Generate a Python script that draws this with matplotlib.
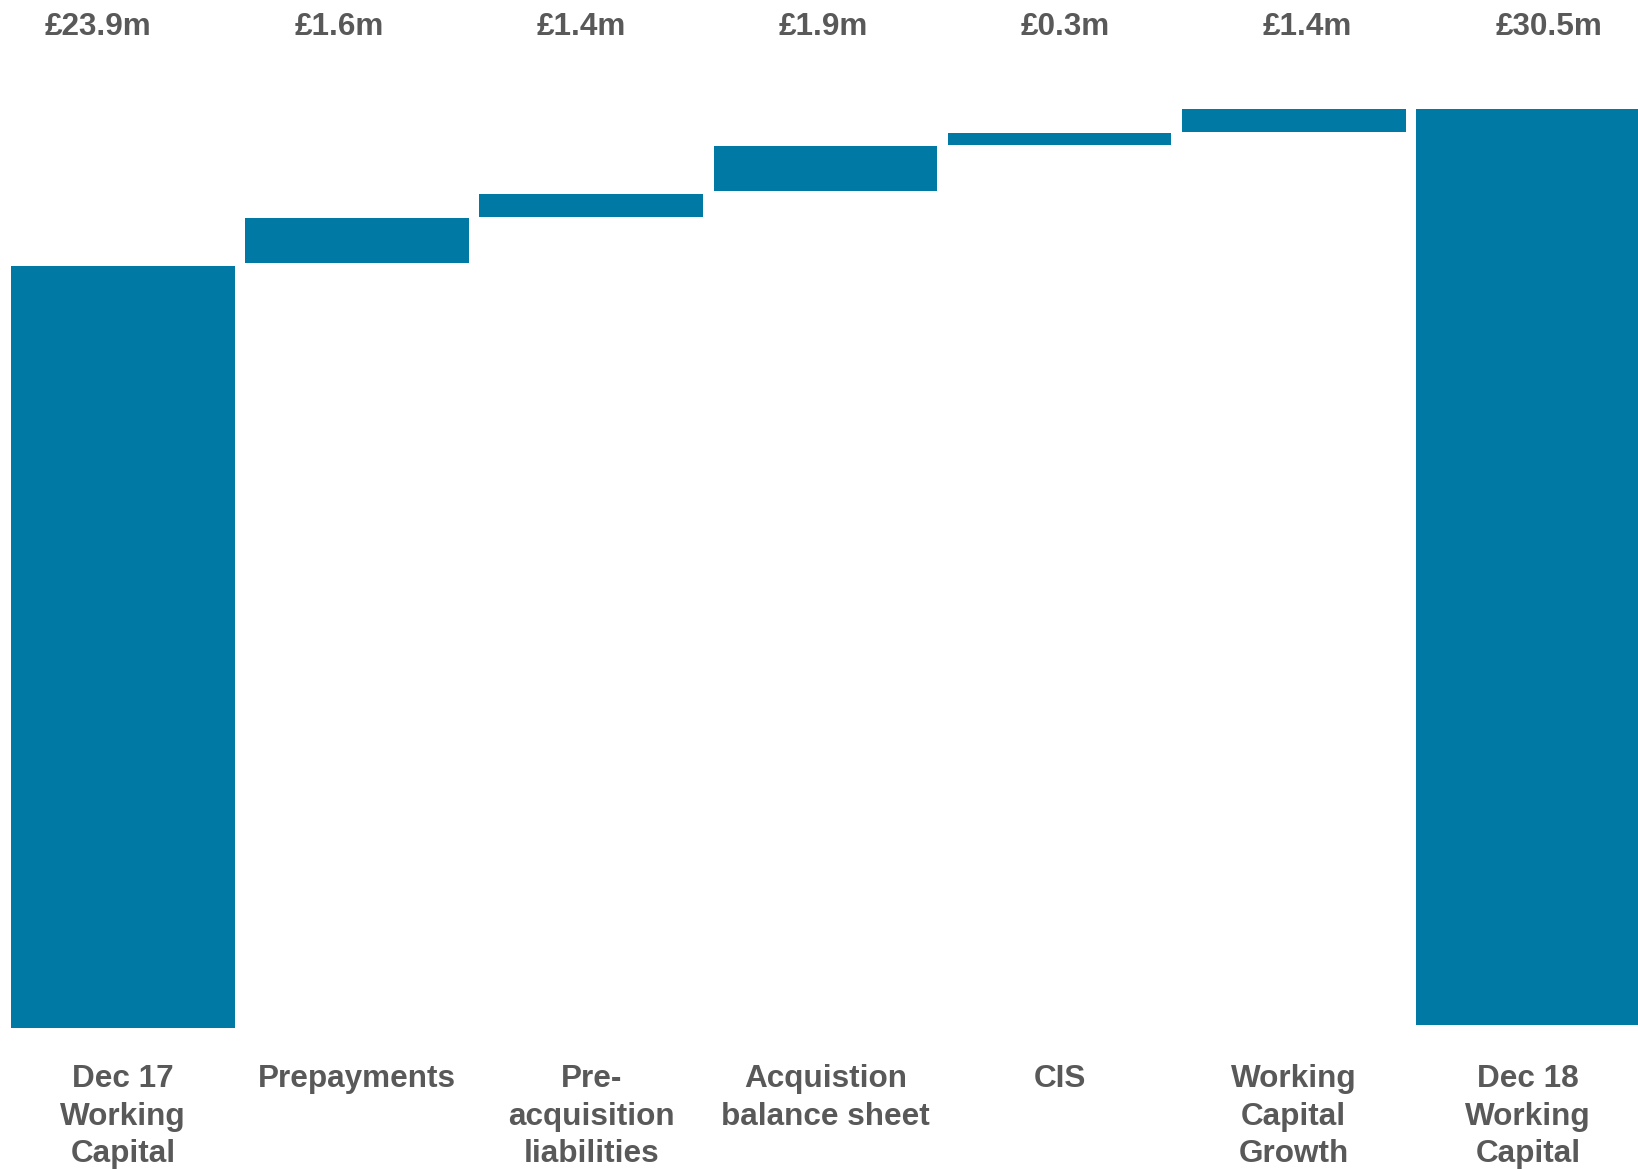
import numpy as np
import matplotlib.pyplot as plt

plt.rcParams['font.family'] = ['Liberation Sans', 'DejaVu Sans']

# Categories, value labels and the floating bar extents (£m)
categories = ['Dec 17\nWorking\nCapital', 'Prepayments', 'Pre-\nacquisition\nliabilities',
              'Acquistion\nbalance sheet', 'CIS', 'Working\nCapital\nGrowth',
              'Dec 18\nWorking\nCapital']
value_labels = ['£23.9m', '£1.6m', '£1.4m', '£1.9m', '£0.3m', '£1.4m', '£30.5m']
bar_bottom = [0.0, 24.00, 25.44, 26.25, 27.70, 28.11, 0.09]
bar_top = [23.9, 25.41, 26.16, 27.67, 28.07, 28.83, 28.83]

blue = '#007aa5'
grey = '#595959'

fig = plt.figure(figsize=(16.38, 11.69), dpi=100)
ax = fig.add_axes([0, 0, 1, 1])

x = np.arange(len(categories))
heights = np.array(bar_top) - np.array(bar_bottom)
ax.bar(x, heights, bottom=bar_bottom, width=0.955, color=blue, linewidth=0)

ax.set_xlim(-0.525, 6.47)
ax.set_ylim(-4.423, 32.246)
ax.axis('off')

tr = ax.get_xaxis_transform()
# value labels along the top sit on a slightly wider pitch than the bars
label_x = x * 1.0326 - 0.107
for lx, lab in zip(label_x, value_labels):
    ax.text(lx, 1 - 35 / 1169, lab, transform=tr, ha='center', va='baseline',
            fontsize=22.7, fontweight='bold', color=grey)

for xi, cat in zip(x, categories):
    ax.text(xi, 1 - 1064 / 1169, cat, transform=tr, ha='center', va='top',
            fontsize=22.7, fontweight='bold', color=grey, linespacing=1.33,
            multialignment='center')

fig.savefig('out.png', dpi=100)
